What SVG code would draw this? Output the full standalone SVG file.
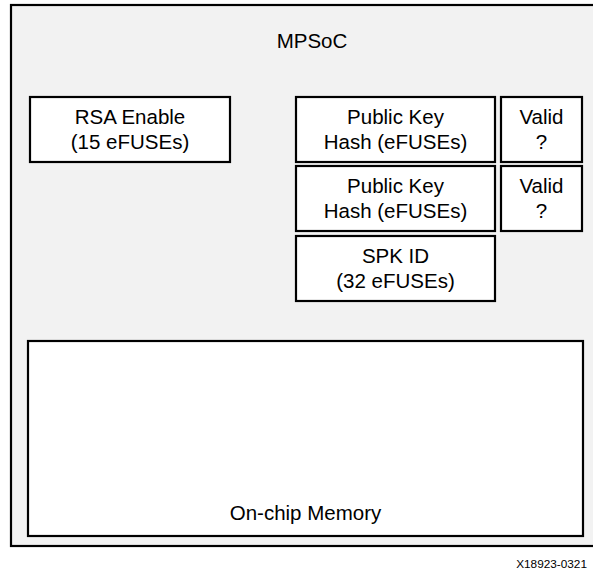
<svg xmlns="http://www.w3.org/2000/svg" width="593" height="575" viewBox="0 0 593 575">
<style>
.box{fill:#ffffff;stroke:#000000;stroke-width:2.2}
.outer{fill:#f2f2f2;stroke:#000000;stroke-width:2.2}
text{font-family:"Liberation Sans",Arial,sans-serif;font-size:20.5px;fill:#000000;text-anchor:middle}
.small{font-size:11.8px;text-anchor:end}
</style>
<rect width="593" height="575" fill="#ffffff"/>
<g id="mpsoc">
<rect class="outer" x="11" y="5" width="600" height="541"/>
<text x="312" y="48">MPSoC</text>
</g>
<g id="rsa">
<rect class="box" x="30" y="97" width="200" height="65"/>
<text x="130" y="124">RSA Enable</text>
<text x="130" y="149">(15 eFUSEs)</text>
</g>
<g id="pkh1">
<rect class="box" x="296" y="97" width="199" height="65"/>
<text x="395.5" y="124">Public Key</text>
<text x="395.5" y="149">Hash (eFUSEs)</text>
</g>
<g id="valid1">
<rect class="box" x="501" y="97" width="81" height="65"/>
<text x="541.5" y="124">Valid</text>
<text x="541.5" y="149">?</text>
</g>
<g id="pkh2">
<rect class="box" x="296" y="166" width="199" height="65"/>
<text x="395.5" y="193">Public Key</text>
<text x="395.5" y="218">Hash (eFUSEs)</text>
</g>
<g id="valid2">
<rect class="box" x="501" y="166" width="81" height="65"/>
<text x="541.5" y="193">Valid</text>
<text x="541.5" y="218">?</text>
</g>
<g id="spk">
<rect class="box" x="296" y="236" width="199" height="65"/>
<text x="395.5" y="263">SPK ID</text>
<text x="395.5" y="288">(32 eFUSEs)</text>
</g>
<g id="memory">
<rect class="box" x="28" y="341" width="555" height="195"/>
<text x="305.5" y="520">On-chip Memory</text>
</g>
<g id="connectors"></g>
<text class="small" x="587" y="568">X18923-0321</text>
</svg>
